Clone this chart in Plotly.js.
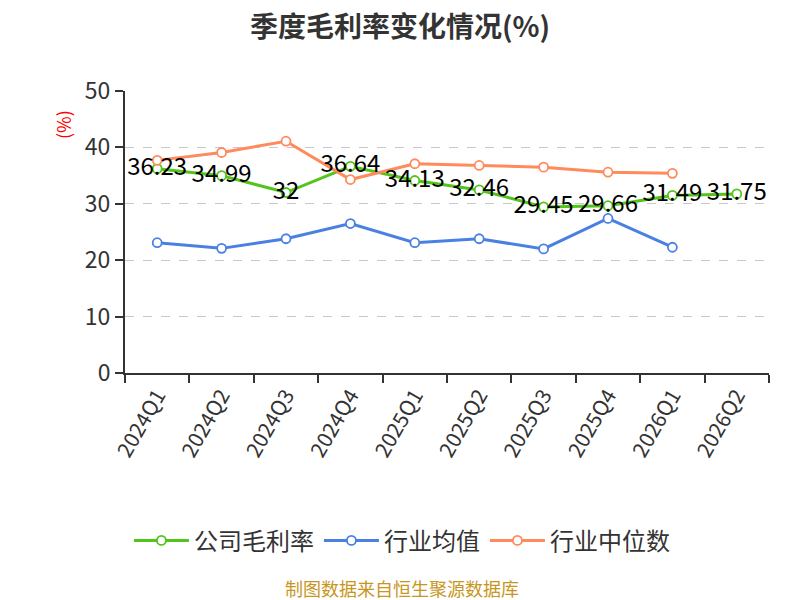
<!DOCTYPE html>
<html>
<head>
<meta charset="utf-8">
<script src="https://cdn.plot.ly/plotly-3.0.1.min.js"></script>
<style>
  html, body { margin: 0; padding: 0; background: #ffffff; }
  #chart { width: 800px; height: 600px; }
</style>
</head>
<body>
<div id="chart"></div>
<script>
// Quarterly gross margin chart

const quarters = ['2024Q1', '2024Q2', '2024Q3', '2024Q4', '2025Q1', '2025Q2', '2025Q3', '2025Q4', '2026Q1', '2026Q2'];
const companyMargin = [36.23, 34.99, 32, 36.64, 34.13, 32.46, 29.45, 29.66, 31.49, 31.75];
const industryAvg = [23.1, 22.1, 23.8, 26.5, 23.1, 23.8, 22.0, 27.4, 22.3];
const industryMedian = [37.7, 39.1, 41.1, 34.3, 37.1, 36.8, 36.5, 35.6, 35.4];
const yTicks = [0, 10, 20, 30, 40, 50];

const FONT = '"Noto Sans CJK SC", "Noto Sans", sans-serif';

function lineTrace(name, values, color, withText) {
    const trace = {
        x: quarters.slice(0, values.length),
        y: values,
        type: 'scatter',
        mode: withText ? 'lines+markers+text' : 'lines+markers',
        name: name,
        line: { color: color, width: 3 },
        marker: {
            size: 9,
            color: '#ffffff',
            line: { color: color, width: 1.8 }
        },
        hoverinfo: 'x+y'
    };
    if (withText) {
        trace.text = values.map(v => String(v));
        trace.textposition = 'middle center';
        trace.textfont = { family: FONT, size: 24, color: '#000000' };
    }
    return trace;
}

const traces = [
    lineTrace('公司毛利率', companyMargin, '#52c41a', false),
    lineTrace('行业均值', industryAvg, '#4a80e2', false),
    lineTrace('行业中位数', industryMedian, '#ff8a5b', false),
    // labels drawn last so they sit above the other lines
    Object.assign(lineTrace('公司毛利率', companyMargin, '#52c41a', true), {
        mode: 'text', showlegend: false, hoverinfo: 'skip'
    })
];

const layout = {
    width: 800,
    height: 600,
    margin: { l: 125, r: 31, t: 91, b: 227 },
    paper_bgcolor: '#ffffff',
    plot_bgcolor: '#ffffff',
    font: { family: FONT, color: '#333333' },
    title: {
        text: '<b>季度毛利率变化情况(%)</b>',
        font: { family: FONT, size: 28, color: '#333333' },
        x: 0.5,
        xref: 'container',
        xanchor: 'center',
        y: 0.955,
        yanchor: 'middle'
    },
    xaxis: {
        type: 'category',
        categoryorder: 'array',
        categoryarray: quarters,
        range: [-0.5, quarters.length - 0.5],
        tickson: 'boundaries',
        ticks: 'outside',
        ticklen: 8,
        tickwidth: 2,
        tickcolor: '#333333',
        tickangle: -60,
        tickfont: { family: FONT, size: 21, color: '#333333' },
        showline: true,
        linecolor: '#333333',
        linewidth: 2,
        showgrid: false,
        zeroline: false,
        fixedrange: true
    },
    yaxis: {
        range: [0, 50],
        tickvals: yTicks,
        ticks: 'outside',
        ticklen: 8,
        tickwidth: 2,
        tickcolor: '#333333',
        tickfont: { family: FONT, size: 23, color: '#333333' },
        showline: true,
        linecolor: '#333333',
        linewidth: 2,
        showgrid: true,
        gridcolor: '#c8c8c8',
        griddash: 'dash',
        gridwidth: 1,
        zeroline: false,
        fixedrange: true
    },
    legend: {
        orientation: 'h',
        x: 0.43,
        xanchor: 'center',
        y: -0.595,
        yanchor: 'middle',
        font: { family: FONT, size: 24, color: '#333333' },
        itemsizing: 'trace',
        itemwidth: 55,
        bgcolor: 'rgba(0,0,0,0)'
    },
    annotations: [
        {
            text: '(%)',
            xref: 'paper', yref: 'paper',
            x: -0.096, y: 0.88,
            xanchor: 'center', yanchor: 'middle',
            textangle: -90,
            showarrow: false,
            font: { family: FONT, size: 18, color: '#ff0000' }
        },
        {
            text: '制图数据来自恒生聚源数据库',
            xref: 'paper', yref: 'paper',
            x: 0.43, y: -0.764,
            xanchor: 'center', yanchor: 'middle',
            showarrow: false,
            font: { family: FONT, size: 18, color: '#c8961e' }
        }
    ],
    showlegend: true
};

try {
    Plotly.newPlot('chart', traces, layout, { responsive: false, displayModeBar: false });
} catch (error) {
    console.log('Error creating margin chart:', error);
}
</script>
</body>
</html>
